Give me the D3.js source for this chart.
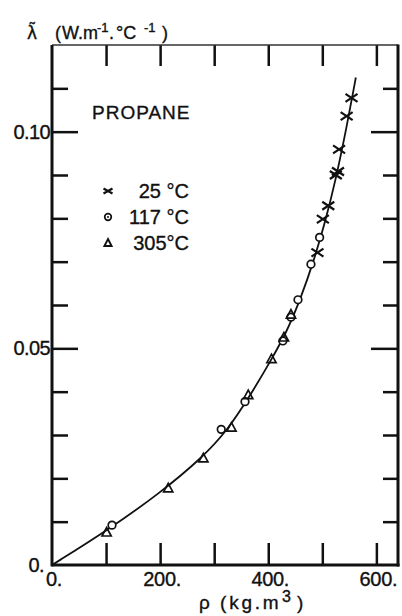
<!DOCTYPE html>
<html>
<head>
<meta charset="utf-8">
<script src="https://d3js.org/d3.v7.min.js"></script>
<style>
    body { margin: 0; background: #fff; }
    text { font-family: "Liberation Sans", Arial, sans-serif; fill: #111; stroke: #111; stroke-width: 0.35px; }
</style>
</head>
<body>
<div id="graph"></div>
<script>
    // data: propane, thermal conductivity vs density
    const rho25 = [491, 501, 511, 525, 529, 531, 545, 554];
    const lam25 = [0.0721, 0.0798, 0.0829, 0.0900, 0.0908, 0.0959, 0.1036, 0.1078];
    const rho117 = [111, 313, 357, 427, 442, 455, 479, 495];
    const lam117 = [0.0092, 0.0313, 0.0377, 0.0517, 0.0572, 0.0612, 0.0694, 0.0756];
    const rho305 = [101, 215, 280, 332, 363, 406, 429, 442];
    const lam305 = [0.0075, 0.0177, 0.0246, 0.0317, 0.0392, 0.0475, 0.0525, 0.0578];
    // fitted curve through the points (control points of a smooth spline)
    const curveRho = [0, 100, 200, 280, 325, 365, 405, 435, 460, 485, 505, 525, 545, 562];
    const curveLam = [0, 0.0078, 0.0166, 0.0250, 0.0312, 0.0388, 0.0472, 0.0540, 0.0615, 0.0705, 0.0790, 0.0890, 0.1010, 0.1125];

    const xTicks = [0, 100, 200, 300, 400, 500, 600];
    const xLabelTicks = [0, 200, 400, 600];
    const xLabels = ["0.", "200.", "400.", "600."];
    const yTicks = [0.01, 0.02, 0.03, 0.04, 0.05, 0.06, 0.07, 0.08, 0.09, 0.10, 0.11];
    const yMajor = [0.05, 0.10];
    const yLabelTicks = [0, 0.05, 0.10];
    const yLabels = ["0.", "0.05", "0.10"];
    const legendNames = ["25 °C", "117 °C", "305°C"];

    const W = 402, H = 616;
    const pLeft = 52, pRight = 398, pTop = 45, pBottom = 565;

    const svg = d3.select("#graph").append("svg")
        .attr("width", W).attr("height", H);

    const x = d3.scaleLinear().domain([0, 640]).range([pLeft, pRight]);
    const y = d3.scaleLinear().domain([0, 0.12]).range([pBottom, pTop]);

    // bottom ticks (pointing up)
    svg.append("g")
        .attr("transform", `translate(0,${pBottom})`)
        .call(d3.axisBottom(x).tickValues(xTicks.slice(1)).tickSizeInner(-22).tickSizeOuter(0).tickFormat(""))
        .call(g => g.select(".domain").remove())
        .call(g => g.selectAll("line").attr("stroke", "#111").attr("stroke-width", 2.5));

    // top ticks (pointing down)
    svg.append("g")
        .attr("transform", `translate(0,${pTop})`)
        .call(d3.axisTop(x).tickValues(xTicks.slice(1)).tickSizeInner(-21).tickSizeOuter(0).tickFormat(""))
        .call(g => g.select(".domain").remove())
        .call(g => g.selectAll("line").attr("stroke", "#111").attr("stroke-width", 2.5));

    // left ticks
    svg.append("g")
        .attr("transform", `translate(${pLeft},0)`)
        .call(d3.axisLeft(y).tickValues(yTicks).tickSizeOuter(0).tickFormat(""))
        .call(g => g.select(".domain").remove())
        .call(g => g.selectAll("line")
            .attr("x2", d => yMajor.includes(d) ? 26 : 16)
            .attr("stroke", "#111").attr("stroke-width", 2.5));

    // right ticks
    svg.append("g")
        .attr("transform", `translate(${pRight},0)`)
        .call(d3.axisRight(y).tickValues(yTicks).tickSizeOuter(0).tickFormat(""))
        .call(g => g.select(".domain").remove())
        .call(g => g.selectAll("line")
            .attr("x2", d => yMajor.includes(d) ? -27 : -15)
            .attr("stroke", "#111").attr("stroke-width", 2.5));

    // frame
    svg.append("line").attr("x1", pLeft).attr("x2", pRight).attr("y1", pTop).attr("y2", pTop)
        .attr("stroke", "#333").attr("stroke-width", 1.5);
    svg.append("line").attr("x1", pLeft).attr("x2", pRight + 1.5).attr("y1", pBottom).attr("y2", pBottom)
        .attr("stroke", "#111").attr("stroke-width", 3);
    svg.append("line").attr("x1", pLeft).attr("x2", pLeft).attr("y1", pTop).attr("y2", pBottom + 1.5)
        .attr("stroke", "#111").attr("stroke-width", 3);
    svg.append("line").attr("x1", pRight).attr("x2", pRight).attr("y1", pTop - 0.5).attr("y2", pBottom + 1.5)
        .attr("stroke", "#111").attr("stroke-width", 3);

    // tick labels
    svg.selectAll(".xlab").data(xLabelTicks).enter().append("text")
        .attr("x", d => x(d) + 2)
        .attr("y", 586)
        .attr("text-anchor", "middle")
        .style("font-size", "20px")
        .style("letter-spacing", "-0.3px")
        .text((d, i) => xLabels[i]);

    svg.selectAll(".ylab").data(yLabelTicks).enter().append("text")
        .attr("x", (d, i) => i === 0 ? 44 : 50)
        .attr("y", d => y(d) + 7)
        .attr("text-anchor", "end")
        .style("font-size", "20px")
        .style("letter-spacing", "-0.6px")
        .text((d, i) => yLabels[i]);

    // y axis title: lambda with tilde, units with superscripts
    const yt = svg.append("text").attr("y", 39).style("font-size", "18px");
    yt.append("tspan").attr("x", 27).style("font-family", "'DejaVu Sans', sans-serif")
        .style("font-size", "17px").text("λ\u0303");
    yt.append("tspan").attr("x", 55).text("(");
    yt.append("tspan").attr("x", 62).text("W.m");
    yt.append("tspan").attr("x", 97).attr("dy", -7).style("font-size", "13px").text("-1");
    yt.append("tspan").attr("x", 109).attr("dy", 7).text(".");
    yt.append("tspan").attr("x", 116).text("°C");
    yt.append("tspan").attr("x", 144).attr("dy", -7).style("font-size", "13px").text("-1");
    yt.append("tspan").attr("x", 162).attr("dy", 7).text(")");

    // x axis title
    const xt = svg.append("text").attr("y", 609).style("font-size", "19px");
    xt.append("tspan").attr("x", 199).text("ρ");
    xt.append("tspan").attr("x", 220).style("letter-spacing", "2.8px").text("(kg.m");
    xt.append("tspan").attr("x", 282).attr("dy", -7).style("font-size", "16px").text("3");
    xt.append("tspan").attr("x", 297).attr("dy", 7).text(")");

    // fitted curve
    const curveData = curveRho.map((r, i) => [r, curveLam[i]]);
    svg.append("path")
        .datum(curveData)
        .attr("fill", "none")
        .attr("stroke", "#111")
        .attr("stroke-width", 1.8)
        .attr("d", d3.line().x(d => x(d[0])).y(d => y(d[1])).curve(d3.curveBasis));

    // markers
    const crossPath = "M-6,-4L6,4M-6,4L6,-4";
    const triPath = "M0,-5L4.6,3.5L-4.6,3.5Z";

    svg.append("g").selectAll("path")
        .data(rho25.map((r, i) => [r, lam25[i]]))
        .enter().append("path")
        .attr("transform", d => `translate(${x(d[0])},${y(d[1])})`)
        .attr("d", crossPath)
        .attr("fill", "none").attr("stroke", "#111").attr("stroke-width", 2.2);

    svg.append("g").selectAll("circle")
        .data(rho117.map((r, i) => [r, lam117[i]]))
        .enter().append("circle")
        .attr("cx", d => x(d[0])).attr("cy", d => y(d[1])).attr("r", 3.8)
        .attr("fill", "#fff").attr("stroke", "#111").attr("stroke-width", 1.7);

    svg.append("g").selectAll("path")
        .data(rho305.map((r, i) => [r, lam305[i]]))
        .enter().append("path")
        .attr("transform", d => `translate(${x(d[0])},${y(d[1])})`)
        .attr("d", triPath)
        .attr("fill", "none").attr("stroke", "#111").attr("stroke-width", 1.7);

    // legend
    svg.append("text").attr("x", 92).attr("y", 119)
        .style("font-size", "19px").style("letter-spacing", "1px").text("PROPANE");

    const rowY = [191, 217, 243];
    svg.selectAll(".legtxt").data(legendNames).enter().append("text")
        .attr("x", 189).attr("y", (d, i) => rowY[i] + 7)
        .attr("text-anchor", "end")
        .style("font-size", "20px")
        .text(d => d);

    svg.append("path").attr("transform", `translate(108,${rowY[0]})`)
        .attr("d", "M-4.5,-2.5L4.5,2.5M-4.5,2.5L4.5,-2.5")
        .attr("fill", "none").attr("stroke", "#111").attr("stroke-width", 2.2);
    svg.append("circle").attr("cx", 108).attr("cy", rowY[1]).attr("r", 3.3)
        .attr("fill", "none").attr("stroke", "#111").attr("stroke-width", 1.7);
    svg.append("circle").attr("cx", 108).attr("cy", rowY[1]).attr("r", 1).attr("fill", "#111");
    svg.append("path").attr("transform", `translate(108,${rowY[2]})`)
        .attr("d", "M0,-4L3.6,3L-3.6,3Z")
        .attr("fill", "none").attr("stroke", "#111").attr("stroke-width", 1.9);
</script>
</body>
</html>
